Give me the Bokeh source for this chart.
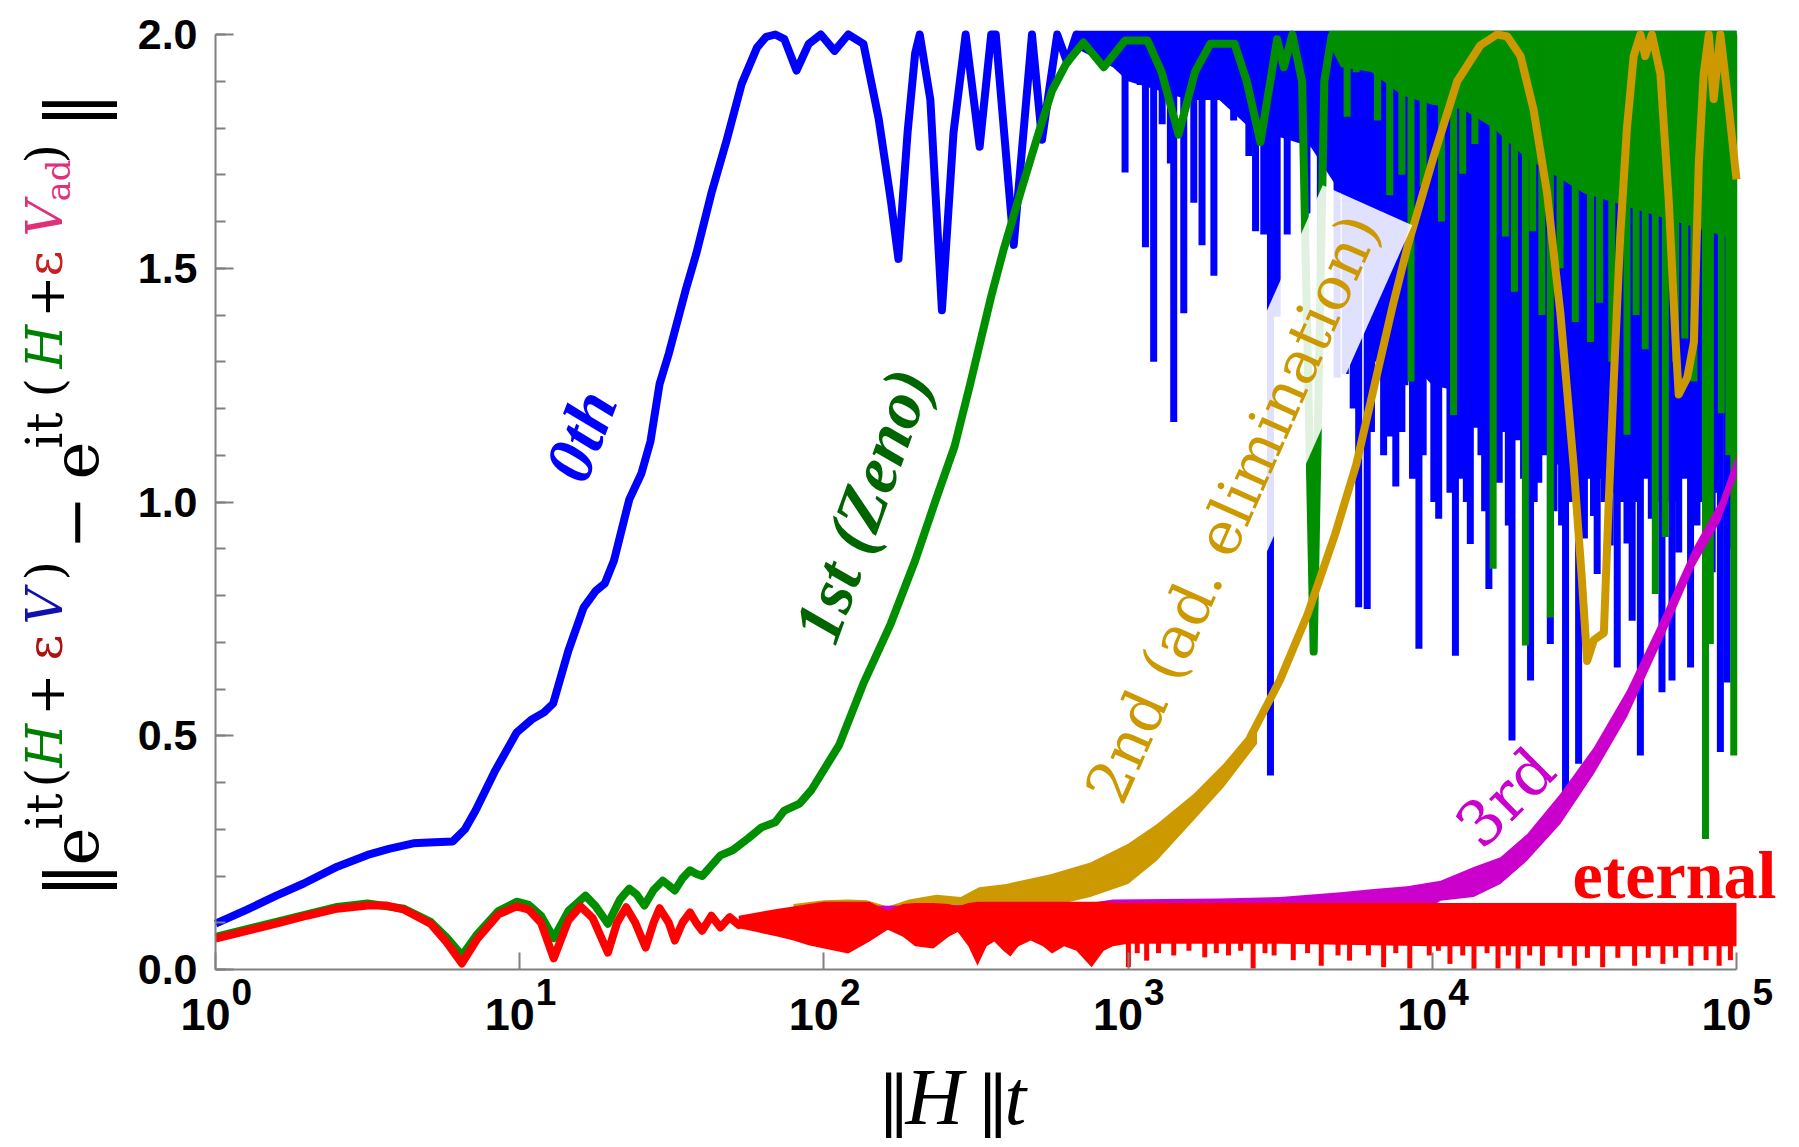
import numpy as np
from math import pi, radians, sin, cos
from bokeh.plotting import figure
from bokeh.models import (Range1d, FixedTicker, SingleIntervalTicker, Label,
                          CustomJSTickFormatter, NumeralTickFormatter)
from bokeh.embed import file_html
from bokeh.resources import INLINE

# ---------------- data (x given as log10(||H|| t)) -------------
BLUE_LINE = [(0.00,.098),(0.10,.127),(0.20,.158),(0.29,.184),(0.40,.220),(0.50,.245),
             (0.57,.258),(0.65,.270),(0.72,.272),(0.78,.274),(0.82,.300),(0.855,.340),
             (0.92,.426),(0.99,.507),(1.04,.535),(1.08,.550),(1.11,.569),(1.16,.682),
             (1.21,.774),(1.25,.810),(1.28,.826),(1.31,.875),(1.36,1.005),(1.40,1.061),
             (1.43,1.13),(1.46,1.253),(1.49,1.317),(1.545,1.452),(1.58,1.53),(1.63,1.66),
             (1.68,1.773),(1.73,1.895),(1.78,1.972),(1.81,1.995),(1.84,2.0),(1.87,1.99),
             (1.91,1.923),(1.95,1.98),(1.99,2.0),(2.035,1.965),(2.08,2.0),(2.13,1.98),
             (2.18,1.82),(2.22,1.645),(2.245,1.52),(2.275,1.79),(2.30,1.96),(2.315,2.0),
             (2.35,1.86),(2.388,1.41),(2.426,1.79),(2.466,2.0),(2.512,1.76),(2.55,2.0),
             (2.565,2.0),(2.624,1.55),(2.684,2.0),(2.717,1.775),(2.767,2.0),(2.80,1.94),
             (2.83,2.0),(2.87,1.97),(2.90,2.0)]
BLUE_FLOOR = [(2.83,1.97),(2.95,1.93),(3.00,1.90),(3.10,1.88),(3.20,1.86),(3.30,1.86),
              (3.40,1.80),(3.50,1.78),(3.60,1.76),(3.70,1.66),(3.80,1.45),(3.90,1.32),
              (4.00,1.25),(4.20,1.22),(4.40,1.20),(4.60,1.18),(4.80,1.18),(5.00,1.20)]
BLUE_SPIKES = [(2.99,1.705),(3.04,1.892),(3.057,1.545),(3.084,1.300),(3.112,1.808),
               (3.139,1.724),(3.150,1.171),(3.183,1.404),(3.216,1.640),(3.243,1.549),
               (3.282,1.484),(3.314,1.870),(3.347,1.816),(3.397,1.740),(3.419,1.579),
               (3.446,1.572),(3.468,0.415),(3.490,1.396),(3.523,1.572),(3.572,1.839),
               (3.588,1.617),(3.632,1.45),(3.687,1.266),(3.714,1.274),(3.72,1.30),
               (3.74,1.20),(3.758,0.775),(3.786,0.771),(3.80,1.15),(3.82,1.30),
               (3.84,1.10),(3.86,1.140),(3.88,1.033),(3.90,1.15),(3.91,1.25),
               (3.935,1.05),(3.956,0.686),(3.97,1.10),(3.987,1.404),(4.005,1.00),
               (4.021,0.964),(4.04,1.270),(4.058,1.02),(4.076,0.671),(4.09,1.05),
               (4.10,1.20),(4.112,1.00),(4.125,0.910),(4.14,1.159),(4.16,1.10),
               (4.172,0.98),(4.186,0.814),(4.20,1.05),(4.22,1.041),(4.24,1.15),
               (4.25,0.95),(4.262,0.490),(4.28,1.132),(4.30,1.05),(4.31,0.97),
               (4.323,0.618),(4.335,1.00),(4.35,1.041),(4.37,1.10),(4.388,0.696),
               (4.40,0.98),(4.41,1.08),(4.425,0.95),(4.438,0.361),(4.46,1.00),
               (4.47,1.05),(4.481,0.440),(4.50,0.922),(4.52,1.05),(4.53,0.97),
               (4.542,0.846),(4.555,1.05),(4.565,1.00),(4.585,0.907),(4.595,1.02),
               (4.608,0.646),(4.625,1.00),(4.64,0.911),(4.657,0.746),(4.67,1.00),
               (4.684,0.458),(4.70,1.05),(4.72,0.964),(4.735,1.00),(4.755,0.593),
               (4.77,1.00),(4.788,0.618),(4.80,1.00),(4.81,0.892),(4.83,1.05),
               (4.849,0.646),(4.87,0.95),(4.885,1.00),(4.90,0.96),(4.92,0.85),
               (4.935,1.02),(4.947,0.465),(4.969,0.614),(4.99,0.90)]

GREEN_LINE = [(0.00,.070),(0.20,.102),(0.40,.134),(0.50,.141),(0.62,.130),(0.707,.102),
              (0.76,.068),(0.81,.030),(0.86,.075),(0.93,.125),(0.99,.145),(1.03,.138),
              (1.07,.115),(1.112,.067),(1.16,.125),(1.216,.158),(1.25,.135),(1.29,.098),
              (1.33,.150),(1.36,.173),(1.385,.160),(1.41,.137),(1.44,.170),(1.47,.190),
              (1.49,.180),(1.51,.169),(1.535,.195),(1.56,.212),(1.58,.205),(1.60,.200),
              (1.63,.222),(1.66,.244),(1.70,.255),(1.75,.280),(1.795,.304),(1.84,.315),
              (1.87,.340),(1.92,.355),(1.96,.385),(2.05,.480),(2.13,.612),(2.22,.740),
              (2.30,.875),(2.367,1.003),(2.43,1.12),(2.48,1.25),(2.55,1.44),(2.59,1.538),
              (2.65,1.67),(2.705,1.788),(2.75,1.88),(2.797,1.938),(2.853,1.983),(2.92,1.93),
              (2.99,1.987),(3.064,1.987),(3.11,1.92),(3.166,1.786),(3.22,1.92),(3.27,1.98),
              (3.35,1.98),(3.39,1.90),(3.435,1.77),(3.49,1.99),(3.512,1.93),(3.54,2.0),
              (3.572,1.90),(3.61,0.68),(3.645,1.90),(3.67,2.0)]
GREEN_FLOOR = [(3.66,1.98),(3.70,1.93),(3.80,1.92),(3.90,1.87),(4.00,1.85),(4.10,1.84),
               (4.20,1.80),(4.30,1.74),(4.40,1.70),(4.50,1.66),(4.60,1.64),(4.70,1.62),
               (4.80,1.60),(4.90,1.58),(5.00,1.56)]
GREEN_SPIKES = [(3.72,1.824),(3.75,1.919),(3.82,1.816),(3.86,1.656),(3.90,1.70),
                (3.93,1.258),(3.97,1.675),(4.03,1.60),(4.07,1.186),(4.10,1.702),
                (4.14,1.766),(4.20,0.857),(4.24,1.568),(4.27,1.45),(4.306,0.693),
                (4.33,1.579),(4.36,1.40),(4.388,0.753),(4.42,1.50),(4.47,1.385),
                (4.52,1.342),(4.55,1.426),(4.59,1.30),(4.64,1.144),(4.67,1.40),
                (4.70,1.327),(4.733,0.803),(4.766,0.925),(4.80,1.30),(4.83,1.35),
                (4.86,1.258),(4.898,0.279),(4.914,0.696),(4.95,1.190),(4.975,1.10),
                (4.991,0.458)]

GOLD_BAND = [(1.90,.100,.140),(2.00,.100,.148),(2.08,.100,.150),(2.14,.100,.148),
             (2.21,.100,.135),(2.28,.100,.150),(2.37,.105,.160),(2.45,.110,.155),
             (2.51,.120,.176),(2.60,.126,.183),(2.745,.135,.204),(2.876,.155,.229),
             (3.00,.183,.269),(3.095,.233,.311),(3.216,.319,.376),(3.314,.390,.440),
             (3.424,.483,.525)]
GOLD_LINE = [(3.40,.495),(3.50,.62),(3.59,.76),(3.68,.93),(3.75,1.08),(3.81,1.25),
             (3.87,1.42),(3.92,1.55),(4.005,1.74),(4.082,1.90),(4.158,1.977),(4.213,2.0),
             (4.246,1.996),(4.29,1.954),(4.333,1.839),(4.377,1.663),(4.421,1.404),
             (4.465,1.075),(4.492,.832),(4.509,.66),(4.531,.705),(4.564,.72),(4.58,1.0),
             (4.597,1.266),(4.618,1.572),(4.64,1.801),(4.662,1.954),(4.684,2.0),
             (4.70,1.954),(4.722,2.0),(4.75,1.915),(4.777,1.648),(4.80,1.342),(4.81,1.23),
             (4.838,1.266),(4.86,1.342),(4.876,1.724),(4.892,1.915),(4.909,2.0),
             (4.925,1.862),(4.947,2.0),(4.969,1.877),(5.00,1.69)]

MAGENTA_BAND = [(1.90,.085,.135),(2.50,.085,.138),(2.85,.085,.140),(2.95,.085,.150),
                (3.30,.085,.152),(3.50,.085,.155),(3.698,.090,.165),(3.808,.095,.172),
                (3.917,.100,.178),(4.027,.147,.190),(4.136,.155,.219),(4.224,.183,.240),
                (4.312,.233,.290),(4.421,.311,.376),(4.531,.418,.475),(4.64,.540,.597),
                (4.75,.696,.746),(4.86,.860,.903),(4.947,.960,1.003),(5.00,1.055,1.100)]

RED_LINE = [(0.00,.066),(0.10,.082),(0.20,.098),(0.30,.115),(0.40,.130),(0.50,.137),
            (0.56,.137),(0.62,.128),(0.707,.098),(0.76,.058),(0.81,.013),(0.86,.065),
            (0.93,.118),(0.99,.135),(1.03,.128),(1.07,.100),(1.112,.024),(1.16,.105),
            (1.20,.135),(1.24,.110),(1.29,.036),(1.32,.100),(1.35,.133),(1.38,.100),
            (1.414,.047),(1.44,.100),(1.46,.131),(1.49,.100),(1.51,.062),(1.535,.100),
            (1.56,.122),(1.58,.100),(1.60,.083),(1.63,.115),(1.66,.090),(1.69,.112),
            (1.72,.095),(1.75,.110)]
RED_BAND = [(1.72,.088,.115),(1.78,.080,.122),(1.85,.070,.130),(1.90,.062,.135),
            (1.95,.052,.140),(2.00,.045,.145),(2.08,.034,.145),(2.15,.060,.145),
            (2.21,.085,.125),(2.26,.070,.140),(2.30,.050,.142),(2.36,.045,.142),
            (2.41,.070,.140),(2.44,.080,.135),(2.475,.050,.142),(2.505,.008,.145),
            (2.535,.050,.145),(2.56,.060,.145),(2.59,.040,.145),(2.613,.028,.145),
            (2.64,.050,.145),(2.68,.062,.145),(2.72,.050,.145),(2.75,.034,.145),
            (2.79,.050,.145),(2.83,.040,.145),(2.88,.005,.145),(2.92,.040,.145),
            (2.95,.050,.143),(3.00,.055,.142),(3.50,.055,.142),(4.00,.050,.142),
            (4.50,.050,.142),(5.00,.050,.142)]
RED_SPIKES = [(3.001,.005),(3.03,.035),(3.061,.019),(3.10,.035),(3.15,.030),(3.20,.040),
              (3.252,.026),(3.29,.035),(3.33,.030),(3.37,.040),(3.411,.002),(3.45,.035),
              (3.48,.030),(3.543,.020),(3.59,.035),(3.635,.008),(3.69,.030),(3.728,.019),
              (3.79,.030),(3.840,.005),(3.88,.035),(3.926,.002),(3.99,.030),(4.02,.040),
              (4.058,.012),(4.10,.030),(4.137,.000),(4.18,.035),(4.216,.002),(4.25,.030),
              (4.282,.000),(4.32,.030),(4.362,.008),(4.42,.025),(4.467,.008),(4.51,.025),
              (4.560,.005),(4.61,.025),(4.665,.008),(4.71,.025),(4.758,.012),(4.80,.025),
              (4.850,.008),(4.90,.020),(4.943,.008),(4.98,.020)]

X_TICK_EXPONENTS = [0, 1, 2, 3, 4, 5]

# ---------------- helpers -------------------------------------------------------
def pairs(rows):
    a = np.array(rows, dtype=float)
    return 10 ** a[:, 0], a[:, 1]

def triples(rows):
    a = np.array(rows, dtype=float)
    return 10 ** a[:, 0], a[:, 1], a[:, 2]

# page-pixel layout -> data coordinates (for placing texts only)
X0, PX_DEC, Y0, PX_UNIT = 215.0, 304.2, 969.0, 467.5
def dx(px): return 10 ** ((px - X0) / PX_DEC)
def dy(py): return (Y0 - py) / PX_UNIT

CW, CH = 1797, 1145
BLUE, GREEN, GOLD, MAG, RED = "#0000ff", "#008f00", "#cc9900", "#cc00cc", "#ff0000"
LW = 8
SW = 7

p = figure(x_axis_type="log",
           x_range=Range1d(dx(0), dx(CW)), y_range=Range1d(dy(CH), dy(0)),
           frame_width=CW, frame_height=CH,
           min_border=0, min_border_left=0, min_border_right=0,
           min_border_top=0, min_border_bottom=0,
           output_backend="svg", toolbar_location=None, outline_line_color=None,
           background_fill_color="white", border_fill_color="white")
p.grid.visible = False

# ---- 0th (blue)
t, y = pairs(BLUE_LINE)
p.line(t, y, line_width=LW, color=BLUE, line_join="round")
t, y = pairs(BLUE_FLOOR)
p.varea(x=t, y1=y, y2=np.full(len(t), 2.008), fill_color=BLUE)
t, y = pairs(BLUE_SPIKES)
p.segment(x0=t, y0=np.full(len(t), 2.0), x1=t, y1=y, line_width=SW, color=BLUE, line_cap="butt")

# ---- 1st (green)
t, y = pairs(GREEN_LINE)
p.line(t, y, line_width=LW, color=GREEN, line_join="round")
t, y = pairs(GREEN_FLOOR)
p.varea(x=t, y1=y, y2=np.full(len(t), 2.008), fill_color=GREEN)
t, y = pairs(GREEN_SPIKES)
p.segment(x0=t, y0=np.full(len(t), 2.0), x1=t, y1=y, line_width=SW, color=GREEN, line_cap="butt")

# ---- 2nd (gold)
t, lo, hi = triples(GOLD_BAND)
p.varea(x=t, y1=lo, y2=hi, fill_color=GOLD)
t, y = pairs(GOLD_LINE)
p.line(t, y, line_width=LW, color=GOLD, line_join="round")

# ---- 3rd (magenta)
t, lo, hi = triples(MAGENTA_BAND)
p.varea(x=t, y1=lo, y2=hi, fill_color=MAG)

# ---- eternal (red)
t, y = pairs(RED_LINE)
p.line(t, y, line_width=LW, color=RED, line_join="round")
t, lo, hi = triples(RED_BAND)
p.varea(x=t, y1=lo, y2=hi, fill_color=RED)
t, y = pairs(RED_SPIKES)
p.segment(x0=t, y0=np.full(len(t), 0.06), x1=t, y1=y, line_width=5, color=RED, line_cap="butt")

# ---------------- axes (real Bokeh axes, pinned inside the frame) -------------------
AX = "#808080"
for ax in (p.xaxis[0], p.yaxis[0]):
    ax.axis_line_color = AX
    ax.axis_line_width = 2
    ax.major_tick_line_color = AX
    ax.major_tick_line_width = 2
    ax.minor_tick_line_color = AX
    ax.minor_tick_line_width = 2
    ax.major_tick_out = 0
    ax.minor_tick_out = 0

p.xaxis.fixed_location = 0
p.xaxis.bounds = (1, 1e5)
p.xaxis.ticker = FixedTicker(ticks=[10 ** k for k in X_TICK_EXPONENTS], minor_ticks=[])
p.xaxis.major_tick_in = 17
p.xaxis.formatter = CustomJSTickFormatter(code="return ''")

p.yaxis.fixed_location = 1
p.yaxis.bounds = (0, 2.0)
p.yaxis.ticker = SingleIntervalTicker(interval=0.5, num_minor_ticks=5)
p.yaxis.formatter = NumeralTickFormatter(format="0.0")
p.yaxis.major_tick_in = 18
p.yaxis.minor_tick_in = 10
p.yaxis.major_label_standoff = 18
p.yaxis.major_label_text_font = "Liberation Sans"
p.yaxis.major_label_text_font_style = "bold"
p.yaxis.major_label_text_font_size = "43px"
p.yaxis.major_label_text_color = "black"

BASE_FIX = 0.25   # alphabetic baseline correction, in em, along the text's "down"

def lab(text, px, py, size, color="black", font="Liberation Serif", style="normal",
        angle=0.0, align="left", baseline="alphabetic", **kw):
    if baseline == "alphabetic":
        k = BASE_FIX * size
        px, py = px - k * sin(angle), py - k * cos(angle)
    p.add_layout(Label(x=dx(px), y=dy(py), text=text, text_font=font,
                       text_font_style=style, text_font_size=f"{size}px",
                       text_color=color, angle=angle, text_align=align,
                       text_baseline=baseline, **kw))

# x tick labels 10^k
for k in X_TICK_EXPONENTS:
    tx = 215 + 304.2 * k
    lab("10", tx + 15, 1025, 45, font="Liberation Sans", style="bold", align="right")
    lab(str(k), tx + 16, 1001, 37, font="Liberation Sans", style="bold")

# x axis title  ||H|| t
lab("\u2016", 877, 1116, 66, font="DejaVu Serif")
lab("H", 905, 1116, 80, style="italic")
lab("\u2016", 976, 1116, 66, font="DejaVu Serif")
lab("t", 1004, 1116, 78, style="italic")

# y axis title (rotated, coloured pieces): text, colour, size, style, baseline x, start y
V = pi / 2
YL = [("\u2016", "black", 74, "normal", 91, 898),
      ("e", "black", 64, "normal", 90, 865),
      ("it", "black", 50, "normal", 57, 829),
      ("(", "black", 50, "normal", 57, 787),
      ("H", "#008000", 50, "italic", 57, 767),
      ("+", "black", 50, "normal", 57, 715),
      ("\u03b5", "#b01010", 50, "normal", 57, 660),
      ("V", "#1010b0", 50, "italic", 57, 624),
      (")", "black", 50, "normal", 57, 580),
      ("\u2212", "black", 64, "normal", 90, 549),
      ("e", "black", 64, "normal", 90, 479),
      ("it", "black", 50, "normal", 57, 448),
      ("(", "black", 50, "normal", 57, 397),
      ("H", "#008000", 50, "italic", 57, 368),
      ("+", "black", 50, "normal", 57, 317),
      ("\u03b5", "#c81e1e", 50, "normal", 57, 276),
      ("V", "#e0307a", 50, "italic", 57, 236),
      ("ad", "#e0307a", 34, "normal", 66, 201),
      (")", "black", 50, "normal", 57, 163),
      ("\u2016", "black", 74, "normal", 91, 128)]
for text, col, size, style, bx, sy in YL:
    lab(text, bx, sy, size, color=col, font="DejaVu Serif", style=style, angle=V)

# curve labels
lab("0th", 580, 435, 68, color=BLUE, style="bold italic", angle=radians(69),
    align="center", baseline="middle")
lab("1st (Zeno)", 862, 505, 68, color="#006400", style="bold italic", angle=radians(70),
    align="center", baseline="middle")
lab("2nd (ad. elimination)", 1232, 508, 60, color=GOLD, font="DejaVu Serif",
    angle=radians(66), align="center", baseline="middle",
    background_fill_color="white", background_fill_alpha=0.88, padding=14)
lab("3rd", 1505, 797, 62, color=MAG, font="DejaVu Serif", angle=radians(45),
    align="center", baseline="middle")
lab("eternal", 1572, 891, 68, color=RED, style="bold")

open("out.html", "w").write(file_html(p, INLINE))
